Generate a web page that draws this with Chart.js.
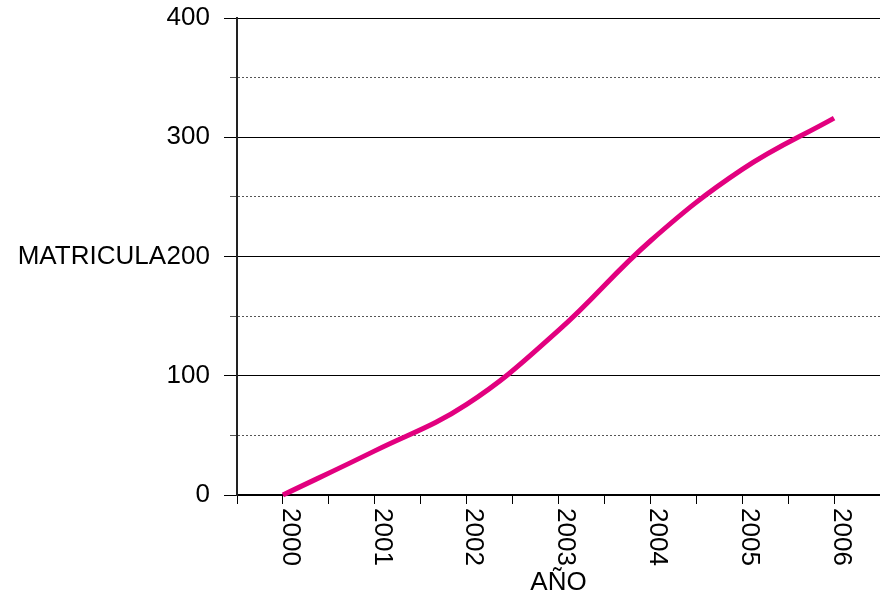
<!DOCTYPE html>
<html>
<head>
<meta charset="utf-8">
<script src="https://cdn.jsdelivr.net/npm/chart.js@4/dist/chart.umd.min.js"></script>
<style>
  html, body { margin: 0; padding: 0; background: #fff; }
  #wrap { width: 880px; height: 605px; position: relative; }
</style>
</head>
<body>
<div id="wrap"><canvas id="c" width="880" height="605"></canvas></div>
<script>
const years = [2000, 2001, 2002, 2003, 2004, 2005, 2006];
const yearLabels = ['2000', '2001', '2002', '2003', '2004', '2005', '2006'];
const matricula = [0, 37, 76, 138, 213, 273, 316];
const yTickLabels = [0, 100, 200, 300, 400];
const yTitle = 'MATRICULA';
const xTitle = 'AÑO';

const FONT = '"Liberation Sans", Arial, sans-serif';
const FS = 26;

const points = years.map((y, i) => ({ x: y, y: matricula[i] }));

const extraText = {
  id: 'extraText',
  afterDraw(chart) {
    const ctx = chart.ctx;
    const xs = chart.scales.x, ys = chart.scales.y;
    ctx.save();
    ctx.fillStyle = '#000';
    ctx.font = FS + 'px ' + FONT;
    ctx.textAlign = 'right';
    ctx.textBaseline = 'middle';
    ctx.fillText(yTitle, 166, ys.getPixelForValue(200));
    ctx.textAlign = 'left';
    ctx.textBaseline = 'middle';
    years.forEach((yr, i) => {
      ctx.save();
      ctx.translate(xs.getPixelForValue(yr) + 7, xs.top + 13);
      ctx.rotate(Math.PI / 2);
      ctx.fillText(yearLabels[i], 0, 0);
      ctx.restore();
    });
    ctx.restore();
  }
};

new Chart(document.getElementById('c'), {
  type: 'line',
  data: {
    datasets: [{
      data: points,
      borderColor: '#e2007f',
      borderWidth: 5,
      pointRadius: 0,
      tension: 0.4,
      fill: false,
      clip: false
    }]
  },
  options: {
    responsive: false,
    animation: false,
    layout: { padding: { top: 18, left: 0, right: 0, bottom: 0 } },
    plugins: { legend: { display: false }, tooltip: { enabled: false } },
    scales: {
      x: {
        type: 'linear',
        min: 1999.5,
        max: 2006.5,
        afterFit(s) { s.height = 110; s.paddingLeft = 0; s.paddingRight = 0; },
        ticks: { display: false, stepSize: 0.5, maxTicksLimit: 20 },
        grid: { drawOnChartArea: false, tickLength: 9, tickColor: '#000', tickWidth: 1 },
        border: { color: '#000', width: 2 },
        title: {
          display: true,
          text: xTitle,
          color: '#000',
          font: { family: FONT, size: FS },
          padding: { top: 0, bottom: 7 }
        }
      },
      y: {
        min: 0,
        max: 400,
        afterFit(s) { s.width = 237; s.paddingTop = 0; s.paddingBottom = 0; },
        ticks: {
          stepSize: 50,
          padding: 14,
          color: '#000',
          font: { family: FONT, size: FS },
          callback: v => (yTickLabels.includes(v) ? String(v) : '')
        },
        grid: {
          color: c => (c.tick && c.tick.value % 100 !== 0 ? '#555' : '#000'),
          lineWidth: 1,
          tickLength: 13,
          tickColor: c => (c.tick && c.tick.value % 100 !== 0 ? '#555' : '#000'),
          tickBorderDash: c => (c.tick && c.tick.value % 100 !== 0 ? [0, 6, 7, 0] : [])
        },
        border: {
          color: '#222',
          width: 2,
          dash: c => (c.tick && c.tick.value % 100 !== 0 ? [2, 2] : [])
        }
      }
    }
  },
  plugins: [extraText]
});
</script>
</body>
</html>
